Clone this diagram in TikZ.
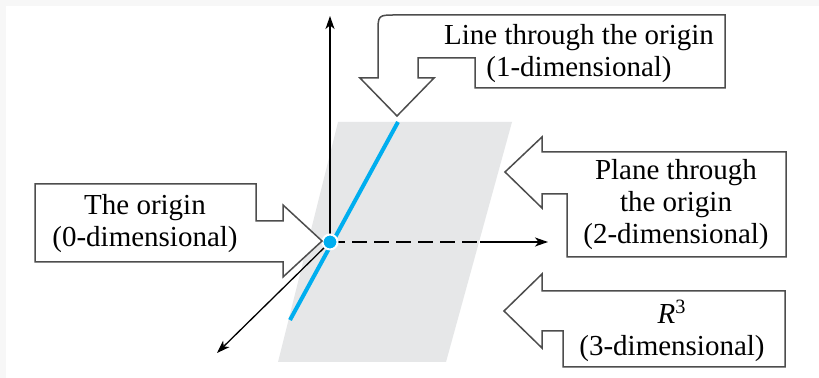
\documentclass[tikz,border=0pt]{standalone}
\usepackage{fontspec}
\setmainfont{Liberation Serif}
\usetikzlibrary{arrows.meta}
\definecolor{planegray}{HTML}{E6E7E8}
\definecolor{linecyan}{HTML}{00AEEF}
\definecolor{boxgray}{HTML}{4D4D4D}
\definecolor{framegray}{HTML}{F7F7F7}

\begin{document}
\begin{tikzpicture}[x=0.5pt, y=-0.5pt,
    axis/.style={line width=0.65pt, -{Stealth[length=6.5pt,width=4.5pt,inset=1.8pt]}},
    callout/.style={draw=boxgray, line width=0.75pt, fill=white, line join=miter},
    calltext/.style={align=center, font=\fontsize{14.5}{16}\selectfont, inner sep=0pt}]

            % Frame of the page
            \fill[framegray] (0,0) rectangle (819,378);
            \fill[white] (6,6) rectangle (819,378);
            \useasboundingbox (0,0) rectangle (819,378);

            % Define the origin and the axis tips
            \coordinate (O) at (330,242);
            \coordinate (ytip) at (330,16);
            \coordinate (xtip) at (548,242);
            \coordinate (xedge) at (480,242);
            \coordinate (ztip) at (217,353);
            \coordinate (lineTop) at (398,122);
            \coordinate (lineBot) at (290,320);

            % The plane
            \fill[planegray] (338,122) -- (512,122) -- (446,362) -- (278,362) -- cycle;

            % The line through the origin
            \draw[linecyan, line width=2pt] (lineBot) -- (lineTop);

            % Axes
            \draw[line width=0.65pt, dash pattern=on 7.5pt off 3.5pt] (O) -- (xedge);
            \draw[axis] (xedge) -- (xtip);
            \draw[axis] (O) -- (ytip);
            \draw[axis] (O) -- (ztip);
            \node (dot) at (O) [circle, fill=linecyan, draw=white, line width=1pt, inner sep=0pt, minimum size=7.5pt] {};

            % Callout for the line
            \draw[callout] (725,15) -- (725,88) -- (475,88) -- (475,58) -- (418,58) -- (418,78)
                -- (434,78) -- (397,116) -- (360,78) -- (378,78) -- (378,33)
                .. controls (378,15) .. (396,15) -- cycle;
            \node (linetxt) [calltext] at (579,54) {Line through the origin\\(1-dimensional)};

            % Callout for the origin
            \draw[callout] (35,184) -- (256,184) -- (256,221) -- (283,221) -- (283,205)
                -- (322,241) -- (283,277) -- (283,262) -- (35,262) -- cycle;
            \node (origintxt) [calltext] at (145,224) {The origin\\(0-dimensional)};

            % Callout for the plane
            \draw[callout] (505,172) -- (542,137) -- (542,152) -- (786,152) -- (786,257)
                -- (567,257) -- (567,194) -- (542,194) -- (542,208) -- cycle;
            \node (planetxt) [calltext] at (676,205) {Plane through\\the origin\\(2-dimensional)};

            % Callout for the space
            \draw[callout] (504,311) -- (542,274) -- (542,291) -- (785,291) -- (785,367)
                -- (563,367) -- (563,331) -- (542,331) -- (542,348) -- cycle;
            \node (spacetxt) [calltext] at (672,331) {\textit{R}\textsuperscript{3}\\(3-dimensional)};

        \end{tikzpicture}
\end{document}
